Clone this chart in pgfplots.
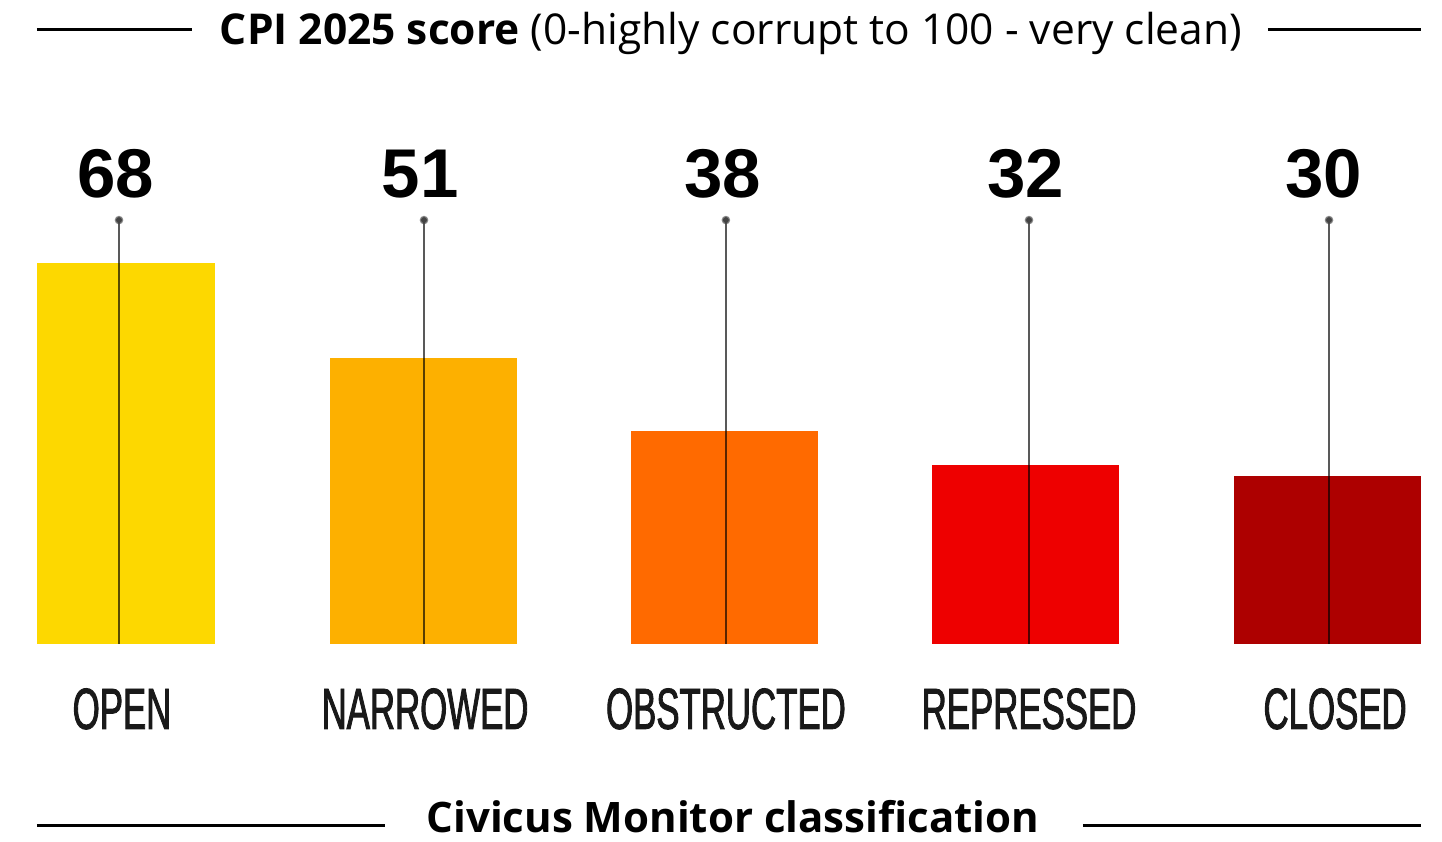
\documentclass[border=0pt]{standalone}
\usepackage{pgfplots}
\pgfplotsset{compat=1.18}
\usepackage{fontspec}
\setmainfont{Open Sans}
\newfontfamily\valfont{Liberation Sans}
\newfontfamily\catfont[FakeStretch=0.6, FakeBold=1.5]{Liberation Sans}
\definecolor{cOpen}{HTML}{FDD800}
\definecolor{cNarrow}{HTML}{FDB000}
\definecolor{cObstr}{HTML}{FF6A00}
\definecolor{cRepr}{HTML}{EE0000}
\definecolor{cClosed}{HTML}{AD0000}
\definecolor{stem}{HTML}{444444}
\begin{document}
\begin{tikzpicture}
\begin{axis}[
  at={(0,0)}, anchor=south west,
  scale only axis, width=721bp, height=421bp,
  xmin=-0.41944, xmax=4.38083, ymin=-35.357, ymax=115,
  axis line style={draw=none}, tick style={draw=none},
  ytick=\empty,
  xtick={-0.0133,0.9954,1.997,3.006,4.025},
  xticklabels={OPEN,NARROWED,OBSTRUCTED,REPRESSED,CLOSED},
  xticklabel style={anchor=north, inner sep=0pt, yshift=77bp,
    font=\catfont\fontsize{29bp}{29bp}\selectfont, text=black!90},
  clip=false,
]
\addplot[ybar, bar shift=0pt, bar width=0.5925, fill=cOpen, draw=none] coordinates {(0,68)};
\addplot[ybar, bar shift=0pt, bar width=0.6225, fill=cNarrow, draw=none] coordinates {(0.990,51)};
\addplot[ybar, bar shift=0pt, bar width=0.6225, fill=cObstr, draw=none] coordinates {(1.992,38)};
\addplot[ybar, bar shift=0pt, bar width=0.6225, fill=cRepr, draw=none] coordinates {(2.994,32)};
\addplot[ybar, bar shift=0pt, bar width=0.6225, fill=cClosed, draw=none] coordinates {(4.000,30)};
% stems
\addplot[ycomb, draw=black, draw opacity=0.65, line width=1.2bp,
  mark=*, mark size=1.5bp, mark options={fill=stem, draw=stem}]
  coordinates {(-0.0233,75.7) (0.992,75.7) (1.997,75.7) (3.006,75.7) (4.0047,75.7)};
% value labels
\addplot[draw=none, mark=none, nodes near coords, point meta=explicit symbolic,
  nodes near coords style={inner sep=0pt, anchor=south,
    font=\valfont\bfseries\fontsize{34.5bp}{34.5bp}\selectfont}]
  coordinates {(-0.0333,79.6)[68] (0.9788,79.6)[51] (1.987,79.6)[38] (2.9953,79.6)[32] (3.9874,79.6)[30]};
\end{axis}
\begin{scope}[x=0.5bp, y=-0.5bp, shift={(0bp,421bp)}]
\path (0,0) rectangle (1442,842);
\draw[line width=1.5bp] (37,30) -- (192,30);
\draw[line width=1.5bp] (1268,30) -- (1421,30);
\node[anchor=base, inner sep=0pt] at (731,45)
  {\fontsize{21.25bp}{21.25bp}\selectfont\textbf{CPI 2025 score} (0-highly corrupt to 100 - very clean)};
\draw[line width=1.5bp] (37,826) -- (385,826);
\draw[line width=1.5bp] (1083,826) -- (1421,826);
\node[anchor=base, inner sep=0pt] at (733,833)
  {\fontsize{21bp}{21bp}\selectfont\textbf{Civicus Monitor classification}};
\end{scope}
\end{tikzpicture}
\end{document}
